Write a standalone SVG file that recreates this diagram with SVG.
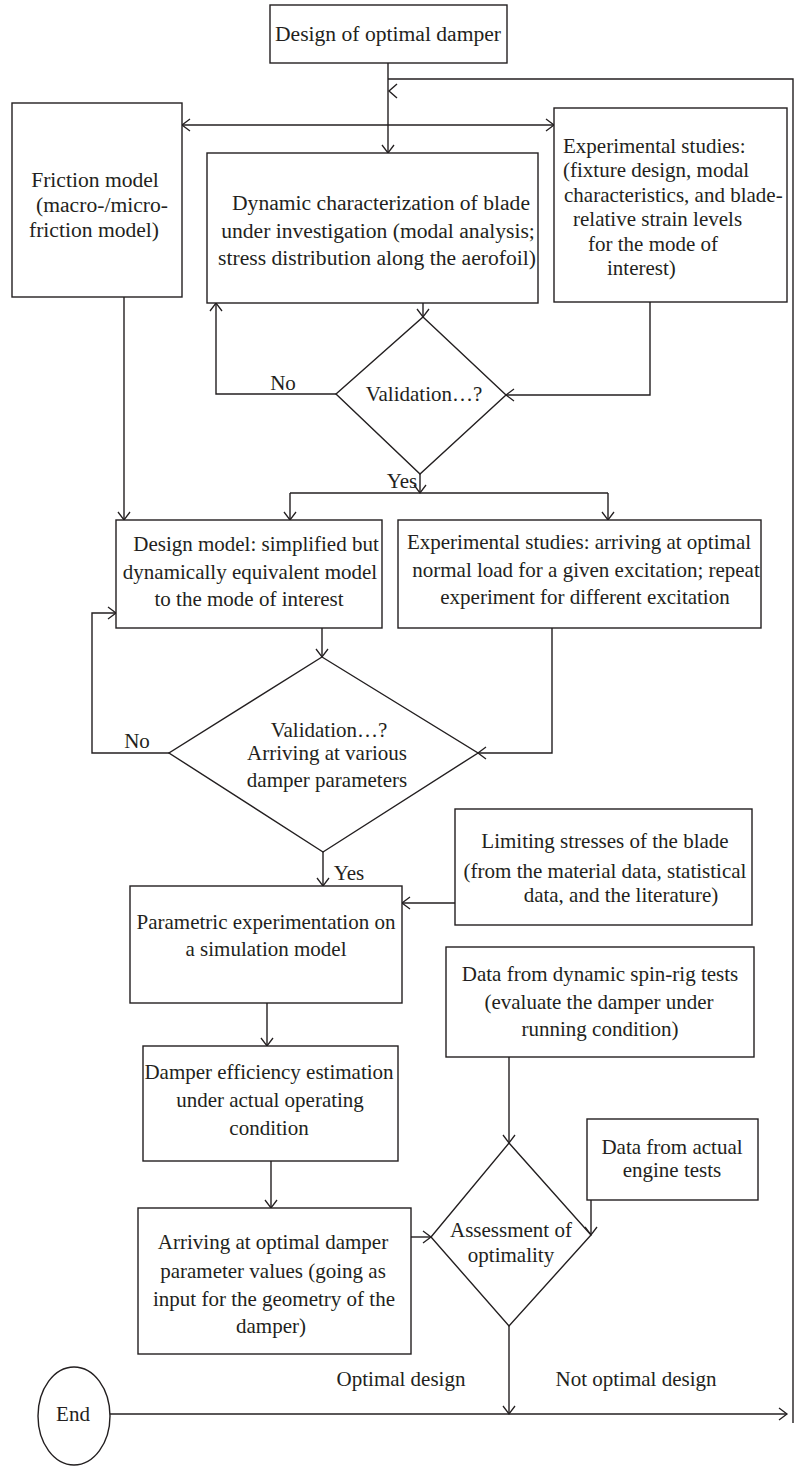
<svg xmlns="http://www.w3.org/2000/svg" width="797" height="1466" viewBox="0 0 797 1466">
<style>
.box{fill:#fff;stroke:#231f20;stroke-width:1.4}
.ln{fill:none;stroke:#231f20;stroke-width:1.4}
text{font-family:"Liberation Serif","Times New Roman",serif;font-size:21px;fill:#231f20}
.big{font-size:21.6px}
.m{text-anchor:middle}
</style>
<defs>
<marker id="ah" markerWidth="12" markerHeight="14" refX="9" refY="7" orient="auto-start-reverse" markerUnits="userSpaceOnUse">
<path d="M1,1 L9,7 L1,13" fill="none" stroke="#231f20" stroke-width="1.3"/>
</marker>
</defs>
<rect width="797" height="1466" fill="#fff"/>
<g id="connectors">
<path class="ln" d="M388,63 V153" marker-end="url(#ah)"/>
<path class="ln" d="M793,1423 V79 H388"/>
<path class="ln" d="M397,84 L389,91 L397,98"/>
<path class="ln" d="M182,125 H554" marker-start="url(#ah)" marker-end="url(#ah)"/>
<path class="ln" d="M423,303 V317" marker-end="url(#ah)"/>
<path class="ln" d="M650,302 V395 H506" marker-end="url(#ah)"/>
<path class="ln" d="M336,394 H216 V303" marker-end="url(#ah)"/>
<path class="ln" d="M420,474 V493" marker-end="url(#ah)"/>
<path class="ln" d="M290,493 H608"/>
<path class="ln" d="M290,493 V520" marker-end="url(#ah)"/>
<path class="ln" d="M608,493 V520" marker-end="url(#ah)"/>
<path class="ln" d="M124,297 V520" marker-end="url(#ah)"/>
<path class="ln" d="M322,628 V657" marker-end="url(#ah)"/>
<path class="ln" d="M552,628 V753 H478" marker-end="url(#ah)"/>
<path class="ln" d="M169,753 H92 V613 H116" marker-end="url(#ah)"/>
<path class="ln" d="M323,852 V886" marker-end="url(#ah)"/>
<path class="ln" d="M455,903 H402" marker-end="url(#ah)"/>
<path class="ln" d="M267,1003 V1046" marker-end="url(#ah)"/>
<path class="ln" d="M271,1161 V1208" marker-end="url(#ah)"/>
<path class="ln" d="M411,1237 H431" marker-end="url(#ah)"/>
<path class="ln" d="M509,1057 V1143" marker-end="url(#ah)"/>
<path class="ln" d="M591,1200 V1235" marker-end="url(#ah)"/>
<path class="ln" d="M509,1326 V1414" marker-end="url(#ah)"/>
<path class="ln" d="M110,1414 H787" marker-end="url(#ah)"/>
<text class="m" x="283" y="390">No</text>
<text class="m" x="402" y="488">Yes</text>
<text class="m" x="137" y="748">No</text>
<text class="m" x="349" y="880">Yes</text>
<text class="m" x="401" y="1386">Optimal design</text>
<text class="m" x="636" y="1386">Not optimal design</text>
</g>
<g id="design">
<rect class="box" x="270" y="5" width="237" height="58"/>
<text class="m big" x="388" y="41">Design of optimal damper</text>
</g>
<g id="friction">
<rect class="box" x="12" y="103" width="170" height="194"/>
<text class="m big" x="95" y="187">Friction model</text>
<text class="m big" x="102" y="212">(macro-/micro-</text>
<text class="m big" x="94" y="237">friction model)</text>
</g>
<g id="dynamic">
<rect class="box" x="207" y="153" width="331" height="150"/>
<text class="m big" x="381" y="210">Dynamic characterization of blade</text>
<text class="m big" x="378" y="238">under investigation (modal analysis;</text>
<text class="m big" x="377" y="265">stress distribution along the aerofoil)</text>
</g>
<g id="exp1">
<rect class="box" x="554" y="108" width="233" height="194"/>
<text x="563" y="153">Experimental studies:</text>
<text x="563" y="177">(fixture design, modal</text>
<text x="564" y="202">characteristics, and blade-</text>
<text x="573" y="226">relative strain levels</text>
<text x="588" y="251">for the mode of</text>
<text x="607" y="275">interest)</text>
</g>
<g id="val1">
<polygon class="box" points="423,317 506,395 420,474 336,394"/>
<text class="m" x="424" y="401">Validation…?</text>
</g>
<g id="designmodel">
<rect class="box" x="116" y="520" width="266" height="108"/>
<text class="m" x="256" y="551">Design model: simplified but</text>
<text class="m" x="250" y="579">dynamically equivalent model</text>
<text class="m" x="249" y="606">to the mode of interest</text>
</g>
<g id="exp2">
<rect class="box" x="398" y="520" width="363" height="108"/>
<text class="m" x="579" y="549">Experimental studies: arriving at optimal</text>
<text class="m" x="586" y="577">normal load for a given excitation; repeat</text>
<text class="m" x="585" y="604">experiment for different excitation</text>
</g>
<g id="val2">
<polygon class="box" points="322,657 478,753 323,852 169,753"/>
<text class="m" x="329" y="737">Validation…?</text>
<text class="m" x="327" y="760">Arriving at various</text>
<text class="m" x="327" y="787">damper parameters</text>
</g>
<g id="limiting">
<rect class="box" x="455" y="809" width="297" height="116"/>
<text class="m" x="605" y="848">Limiting stresses of the blade</text>
<text class="m" x="605" y="878">(from the material data, statistical</text>
<text class="m" x="621" y="902">data, and the literature)</text>
</g>
<g id="parametric">
<rect class="box" x="130" y="886" width="272" height="117"/>
<text class="m" x="266" y="929">Parametric experimentation on</text>
<text class="m" x="266" y="956">a simulation model</text>
</g>
<g id="spinrig">
<rect class="box" x="446" y="947" width="308" height="110"/>
<text class="m" x="600" y="981">Data from dynamic spin-rig tests</text>
<text class="m" x="599" y="1009">(evaluate the damper under</text>
<text class="m" x="600" y="1036">running condition)</text>
</g>
<g id="efficiency">
<rect class="box" x="143" y="1046" width="255" height="115"/>
<text class="m" x="269" y="1079">Damper efficiency estimation</text>
<text class="m" x="270" y="1107">under actual operating</text>
<text class="m" x="269" y="1135">condition</text>
</g>
<g id="engine">
<rect class="box" x="587" y="1119" width="171" height="81"/>
<text class="m" x="672" y="1154">Data from actual</text>
<text class="m" x="672" y="1177">engine tests</text>
</g>
<g id="arriving">
<rect class="box" x="138" y="1208" width="273" height="146"/>
<text class="m" x="273" y="1249">Arriving at optimal damper</text>
<text class="m" x="273" y="1278">parameter values (going as</text>
<text class="m" x="274" y="1306">input for the geometry of the</text>
<text class="m" x="271" y="1333">damper)</text>
</g>
<g id="assessment">
<polygon class="box" points="509,1143 591,1235 509,1326 431,1237"/>
<text class="m" x="511" y="1237">Assessment of</text>
<text class="m" x="511" y="1262">optimality</text>
</g>
<g id="end">
<ellipse class="box" cx="74" cy="1416" rx="36" ry="49"/>
<text class="m" x="73" y="1421">End</text>
</g>
</svg>
